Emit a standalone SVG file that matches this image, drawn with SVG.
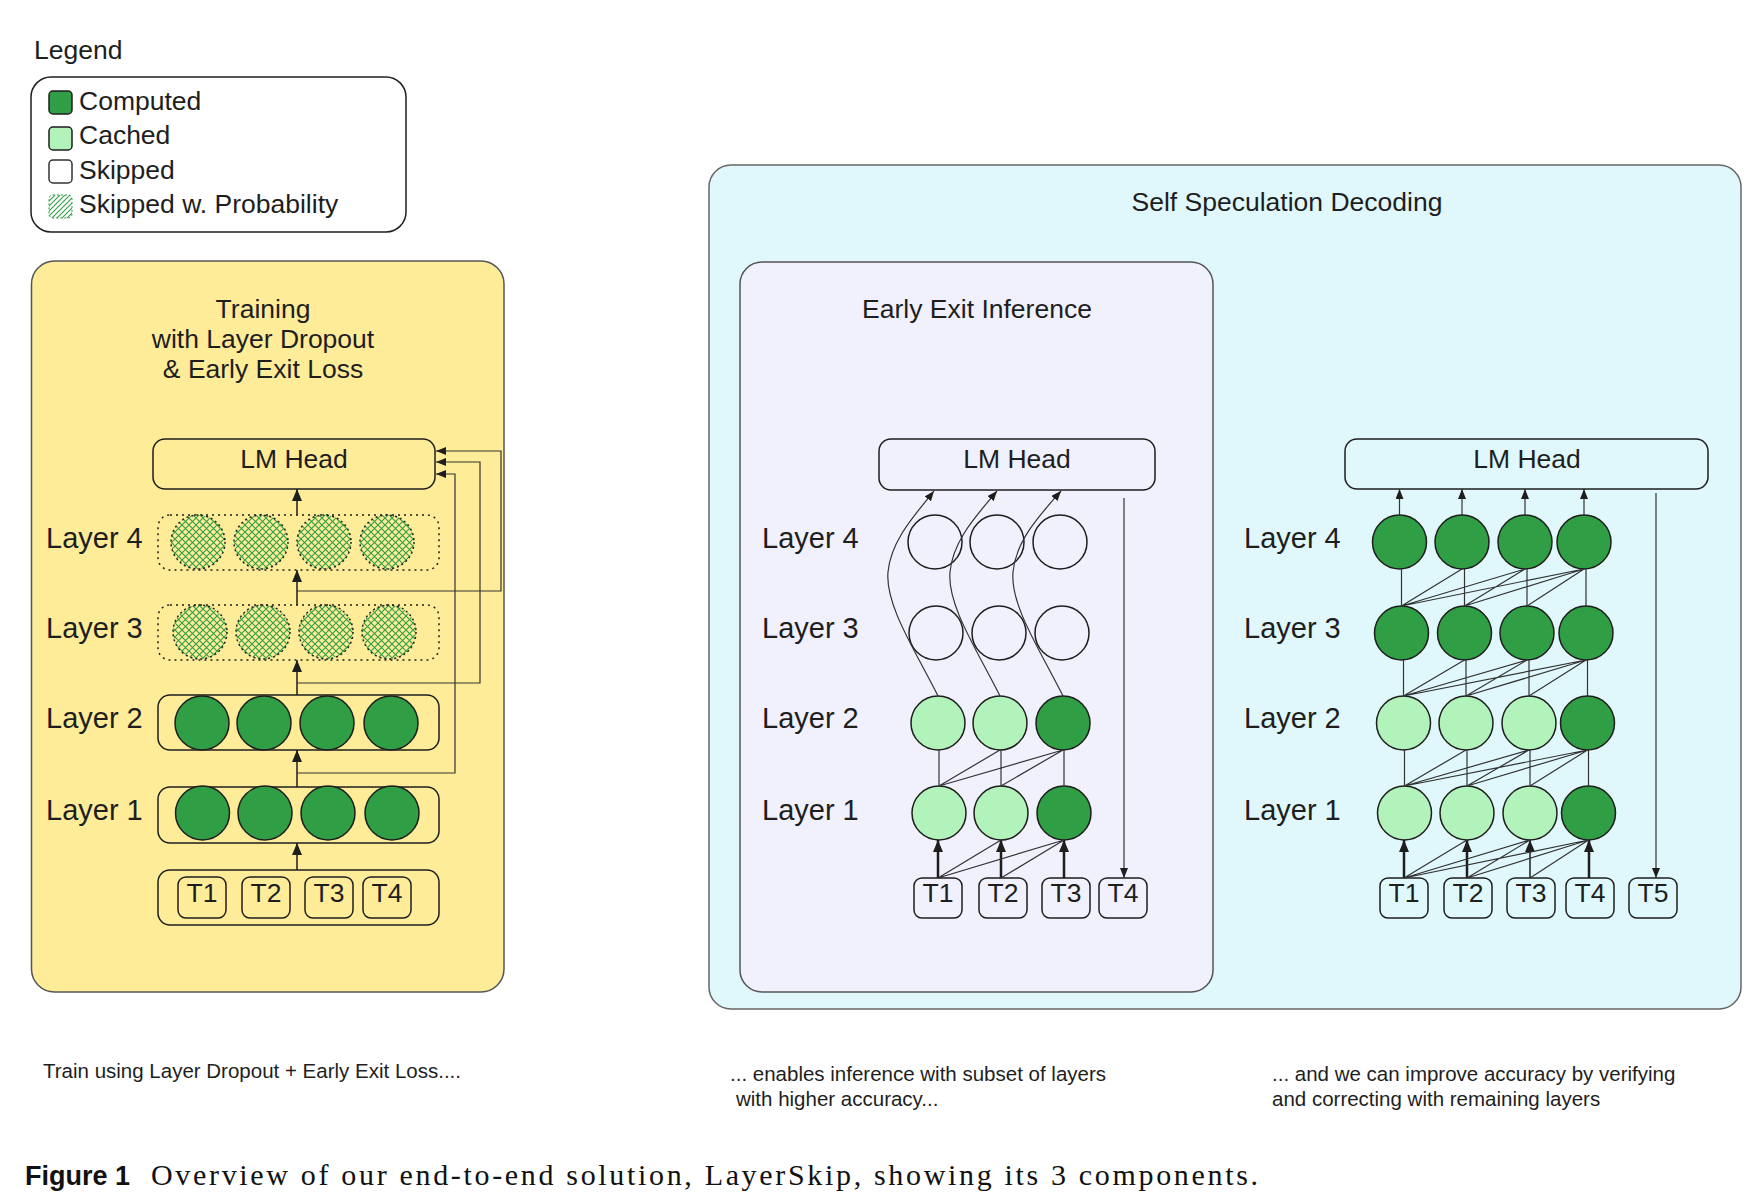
<svg xmlns="http://www.w3.org/2000/svg" width="1764" height="1204" viewBox="0 0 1764 1204">
<defs>
<style>
text{font-family:"Liberation Sans",Arial,Helvetica,sans-serif;fill:#1e1e1e}
.t26{font-size:26.5px}
.lay{font-size:29px}
.cap{font-size:20.5px}
.mid{text-anchor:middle}
.panelY{fill:#ffec99;stroke:#555;stroke-width:1.5}
.panelC{fill:#e0f8fb;stroke:#666;stroke-width:1.5}
.panelP{fill:#f1f0fd;stroke:#555;stroke-width:1.5}
.box{fill:none;stroke:#1e1e1e;stroke-width:1.5}
.dot{fill:none;stroke:#1e1e1e;stroke-width:1.5;stroke-dasharray:2 4}
.dk{fill:#2f9e44;stroke:#1e1e1e;stroke-width:1.5}
.lt{fill:#b2f2bb;stroke:#1e1e1e;stroke-width:1.5}
.sk{fill:none;stroke:#1e1e1e;stroke-width:1.5}
.hx{fill:url(#xh);stroke:#1e1e1e;stroke-width:1.5;stroke-dasharray:2 3}
.tok{fill:none;stroke:#1e1e1e;stroke-width:1.5}
.ln{fill:none;stroke:#333;stroke-width:1.2}
.ar{fill:none;stroke:#1e1e1e;stroke-width:1.5;marker-end:url(#ah)}
.arT{fill:none;stroke:#1e1e1e;stroke-width:2.5;marker-end:url(#ah)}
.arS{fill:none;stroke:#333;stroke-width:1.2;marker-end:url(#ahs)}
</style>
<pattern id="xh" patternUnits="userSpaceOnUse" width="7" height="7">
<path d="M0,0 L7,7 M7,0 L0,7" stroke="#2f9e44" stroke-width="1.1"/>
</pattern>
<pattern id="sh" patternUnits="userSpaceOnUse" width="5" height="5">
<path d="M-1,1 L1,-1 M0,5 L5,0 M4,6 L6,4" stroke="#2f9e44" stroke-width="1.1"/>
</pattern>
<marker id="ah" viewBox="0 0 12 10" refX="12" refY="5" markerWidth="12" markerHeight="10" markerUnits="userSpaceOnUse" orient="auto">
<path d="M0,0 L12,5 L0,10 z" fill="#1e1e1e"/>
</marker>
<marker id="ahs" viewBox="0 0 10 8" refX="10" refY="4" markerWidth="10" markerHeight="8" markerUnits="userSpaceOnUse" orient="auto">
<path d="M0,0 L10,4 L0,8 z" fill="#1e1e1e"/>
</marker>
</defs>
<rect width="1764" height="1204" fill="#ffffff"/>

<!-- Legend -->
<g id="legend">
<text x="34" y="59" class="t26">Legend</text>
<rect x="31" y="77" width="375" height="155" rx="20" class="box" stroke="#333"/>
<rect x="49" y="91" width="23" height="23" rx="4" class="dk"/>
<text x="79" y="110" class="t26">Computed</text>
<rect x="49" y="127" width="23" height="23" rx="4" class="lt" stroke="#555"/>
<text x="79" y="144" class="t26">Cached</text>
<rect x="49" y="160" width="23" height="23" rx="4" fill="#fff" stroke="#333" stroke-width="1.5"/>
<text x="79" y="179" class="t26">Skipped</text>
<rect x="49" y="195" width="23" height="23" rx="4" fill="url(#sh)" stroke="#2f9e44" stroke-width="1" stroke-dasharray="2 2"/>
<text x="79" y="213" class="t26">Skipped w. Probability</text>
</g>

<!-- Training panel -->
<g id="training">
<rect x="31.5" y="261" width="472.5" height="731" rx="23" class="panelY"/>
<text x="263" y="318" class="t26 mid">Training</text>
<text x="263" y="348" class="t26 mid">with Layer Dropout</text>
<text x="263" y="378" class="t26 mid">&amp; Early Exit Loss</text>
</g>
<g id="train-lmhead">
<rect x="153" y="439" width="282" height="50" rx="12" class="box"/>
<text x="294" y="468" class="t26 mid">LM Head</text>
</g>
<g id="train-layer4">
<text x="46" y="548" class="lay">Layer 4</text>
<rect x="158" y="515" width="281" height="55" rx="12" class="dot"/>
<circle cx="198" cy="542" r="27" class="hx"/>
<circle cx="261" cy="542" r="27" class="hx"/>
<circle cx="324" cy="542" r="27" class="hx"/>
<circle cx="387" cy="542" r="27" class="hx"/>
</g>
<g id="train-layer3">
<text x="46" y="638" class="lay">Layer 3</text>
<rect x="158" y="605" width="281" height="55" rx="12" class="dot"/>
<circle cx="200" cy="632" r="27" class="hx"/>
<circle cx="263" cy="632" r="27" class="hx"/>
<circle cx="326" cy="632" r="27" class="hx"/>
<circle cx="389" cy="632" r="27" class="hx"/>
</g>
<g id="train-layer2">
<text x="46" y="728" class="lay">Layer 2</text>
<rect x="158" y="695" width="281" height="55" rx="12" class="box"/>
<circle cx="202" cy="723" r="27" class="dk"/>
<circle cx="264" cy="723" r="27" class="dk"/>
<circle cx="327" cy="723" r="27" class="dk"/>
<circle cx="391" cy="723" r="27" class="dk"/>
</g>
<g id="train-layer1">
<text x="46" y="820" class="lay">Layer 1</text>
<rect x="158" y="787" width="281" height="56" rx="12" class="box"/>
<circle cx="202.5" cy="813" r="27" class="dk"/>
<circle cx="265" cy="813" r="27" class="dk"/>
<circle cx="328" cy="813" r="27" class="dk"/>
<circle cx="392" cy="813" r="27" class="dk"/>
</g>
<g id="train-tokens">
<rect x="158" y="870" width="281" height="55" rx="12" class="box"/>
<rect x="178" y="877" width="48" height="41" rx="8" class="tok"/>
<rect x="242" y="877" width="48" height="41" rx="8" class="tok"/>
<rect x="305" y="877" width="48" height="41" rx="8" class="tok"/>
<rect x="363" y="877" width="48" height="41" rx="8" class="tok"/>
<text x="202" y="902" class="t26 mid">T1</text>
<text x="266" y="902" class="t26 mid">T2</text>
<text x="329" y="902" class="t26 mid">T3</text>
<text x="387" y="902" class="t26 mid">T4</text>
</g>

<!-- Self speculation panel -->
<g id="selfspec">
<rect x="709" y="165" width="1032" height="844" rx="22" class="panelC"/>
<text x="1287" y="211" class="t26 mid">Self Speculation Decoding</text>
</g>
<g id="earlyexit">
<rect x="740" y="262" width="473" height="730" rx="22" class="panelP"/>
<text x="977" y="318" class="t26 mid">Early Exit Inference</text>
</g>
<g id="ee-lmhead">
<rect x="879" y="439" width="276" height="51" rx="12" class="box"/>
<text x="1017" y="468" class="t26 mid">LM Head</text>
</g>
<g id="ee-layer4">
<text x="762" y="548" class="lay">Layer 4</text>
<circle cx="935" cy="542" r="27" class="sk"/>
<circle cx="997" cy="542" r="27" class="sk"/>
<circle cx="1060" cy="542" r="27" class="sk"/>
</g>
<g id="ee-layer3">
<text x="762" y="638" class="lay">Layer 3</text>
<circle cx="936" cy="633" r="27" class="sk"/>
<circle cx="999" cy="633" r="27" class="sk"/>
<circle cx="1062" cy="633" r="27" class="sk"/>
</g>
<g id="ee-layer2">
<text x="762" y="728" class="lay">Layer 2</text>
<circle cx="938" cy="723" r="27" class="lt"/>
<circle cx="1000" cy="723" r="27" class="lt"/>
<circle cx="1063" cy="723" r="27" class="dk"/>
</g>
<g id="ee-layer1">
<text x="762" y="820" class="lay">Layer 1</text>
<circle cx="939" cy="813" r="27" class="lt"/>
<circle cx="1001" cy="813" r="27" class="lt"/>
<circle cx="1064" cy="813" r="27" class="dk"/>
</g>
<g id="ee-tokens">
<rect x="914" y="878" width="48" height="40" rx="8" class="tok"/>
<rect x="979" y="878" width="48" height="40" rx="8" class="tok"/>
<rect x="1042" y="878" width="48" height="40" rx="8" class="tok"/>
<rect x="1099" y="878" width="48" height="40" rx="8" class="tok"/>
<text x="938" y="902" class="t26 mid">T1</text>
<text x="1003" y="902" class="t26 mid">T2</text>
<text x="1066" y="902" class="t26 mid">T3</text>
<text x="1123" y="902" class="t26 mid">T4</text>
</g>

<g id="sd-lmhead">
<rect x="1345" y="439" width="363" height="50" rx="12" class="box"/>
<text x="1527" y="468" class="t26 mid">LM Head</text>
</g>
<g id="sd-layer4">
<text x="1244" y="548" class="lay">Layer 4</text>
<circle cx="1399.5" cy="542" r="27" class="dk"/>
<circle cx="1462" cy="542" r="27" class="dk"/>
<circle cx="1525" cy="542" r="27" class="dk"/>
<circle cx="1584" cy="542" r="27" class="dk"/>
</g>
<g id="sd-layer3">
<text x="1244" y="638" class="lay">Layer 3</text>
<circle cx="1401.5" cy="633" r="27" class="dk"/>
<circle cx="1464.5" cy="633" r="27" class="dk"/>
<circle cx="1527" cy="633" r="27" class="dk"/>
<circle cx="1586" cy="633" r="27" class="dk"/>
</g>
<g id="sd-layer2">
<text x="1244" y="728" class="lay">Layer 2</text>
<circle cx="1403.5" cy="723" r="27" class="lt"/>
<circle cx="1466" cy="723" r="27" class="lt"/>
<circle cx="1529" cy="723" r="27" class="lt"/>
<circle cx="1587.5" cy="723" r="27" class="dk"/>
</g>
<g id="sd-layer1">
<text x="1244" y="820" class="lay">Layer 1</text>
<circle cx="1404.5" cy="813" r="27" class="lt"/>
<circle cx="1467" cy="813" r="27" class="lt"/>
<circle cx="1530" cy="813" r="27" class="lt"/>
<circle cx="1588.5" cy="813" r="27" class="dk"/>
</g>
<g id="sd-tokens">
<rect x="1380" y="878" width="48" height="40" rx="8" class="tok"/>
<rect x="1444" y="878" width="48" height="40" rx="8" class="tok"/>
<rect x="1507" y="878" width="48" height="40" rx="8" class="tok"/>
<rect x="1566" y="878" width="48" height="40" rx="8" class="tok"/>
<rect x="1629" y="878" width="48" height="40" rx="8" class="tok"/>
<text x="1404" y="902" class="t26 mid">T1</text>
<text x="1468" y="902" class="t26 mid">T2</text>
<text x="1531" y="902" class="t26 mid">T3</text>
<text x="1590" y="902" class="t26 mid">T4</text>
<text x="1653" y="902" class="t26 mid">T5</text>
</g>

<!-- Connectors -->
<g id="connectors">
<!-- training -->
<path d="M297,870 V843" class="ar"/>
<path d="M297,787 V750" class="ar"/>
<path d="M297,695 V660" class="ar"/>
<path d="M297,605 V570" class="ar"/>
<path d="M297,515 V489" class="ar"/>
<path d="M297,773 H455 V474 H436" class="arS"/>
<path d="M297,683 H480 V462 H436" class="arS"/>
<path d="M297,591 H501 V451 H436" class="arS"/>
<!-- early exit -->
<path d="M938,878 V840" class="arT"/>
<path d="M1001,878 V840" class="arT"/>
<path d="M1064,878 V840" class="arT"/>
<path d="M938,878 L1001,840 M938,878 L1064,840 M1001,878 L1064,840" class="ln"/>
<path d="M939,786 V750 M1001,786 V750 M1064,786 V750 M939,786 L1000,750 M939,786 L1063,750 M1001,786 L1063,750" class="ln"/>
<path d="M938,696 C915,650 885,605 888,572 C891,540 915,515 934,491" class="arS"/>
<path d="M1000,696 C977,650 947,605 950,572 C953,540 977,515 997,491" class="arS"/>
<path d="M1063,696 C1040,650 1010,605 1013,572 C1016,540 1040,515 1061,491" class="arS"/>
<path d="M1124,498 V878" class="arS"/>
<!-- self speculation -->
<path d="M1399.5,515 V489" class="arS"/>
<path d="M1462,515 V489" class="arS"/>
<path d="M1525,515 V489" class="arS"/>
<path d="M1584,515 V489" class="arS"/>
<path d="M1656,493 V878" class="arS"/>
<path d="M1401.5,606 V569 M1464.5,606 V569 M1527,606 V569 M1586,606 V569 M1401.5,606 L1462,569 M1401.5,606 L1525,569 M1401.5,606 L1584,569 M1464.5,606 L1525,569 M1464.5,606 L1584,569 M1527,606 L1584,569" class="ln"/>
<path d="M1403.5,696 V660 M1466,696 V660 M1529,696 V660 M1587.5,696 V660 M1403.5,696 L1464.5,660 M1403.5,696 L1527,660 M1403.5,696 L1586,660 M1466,696 L1527,660 M1466,696 L1586,660 M1529,696 L1586,660" class="ln"/>
<path d="M1404.5,786 V750 M1467,786 V750 M1530,786 V750 M1588.5,786 V750 M1404.5,786 L1466,750 M1404.5,786 L1529,750 M1404.5,786 L1587.5,750 M1467,786 L1529,750 M1467,786 L1587.5,750 M1530,786 L1587.5,750" class="ln"/>
<path d="M1404,878 V840" class="arT"/>
<path d="M1467,878 V840" class="arT"/>
<path d="M1530,878 V840" class="ar"/>
<path d="M1589,878 V840" class="arT"/>
<path d="M1404,878 L1467,840 M1404,878 L1530,840 M1404,878 L1588.5,840 M1467,878 L1530,840 M1467,878 L1588.5,840 M1530,878 L1588.5,840" class="ln"/>
</g>

<!-- captions -->
<text x="43" y="1078" class="cap">Train using Layer Dropout + Early Exit Loss....</text>
<text x="730" y="1081" class="cap">... enables inference with subset of layers</text>
<text x="736" y="1106" class="cap">with higher accuracy...</text>
<text x="1272" y="1081" class="cap">... and we can improve accuracy by verifying</text>
<text x="1272" y="1106" class="cap">and correcting with remaining layers</text>
<text x="25" y="1185" style="font-size:27px;font-weight:bold;fill:#111">Figure 1</text>
<text x="151" y="1185" textLength="1107" lengthAdjust="spacing" style="font-family:'Liberation Serif','Times New Roman',serif;font-size:30px;fill:#111">Overview of our end-to-end solution, LayerSkip, showing its 3 components.</text>
</svg>
